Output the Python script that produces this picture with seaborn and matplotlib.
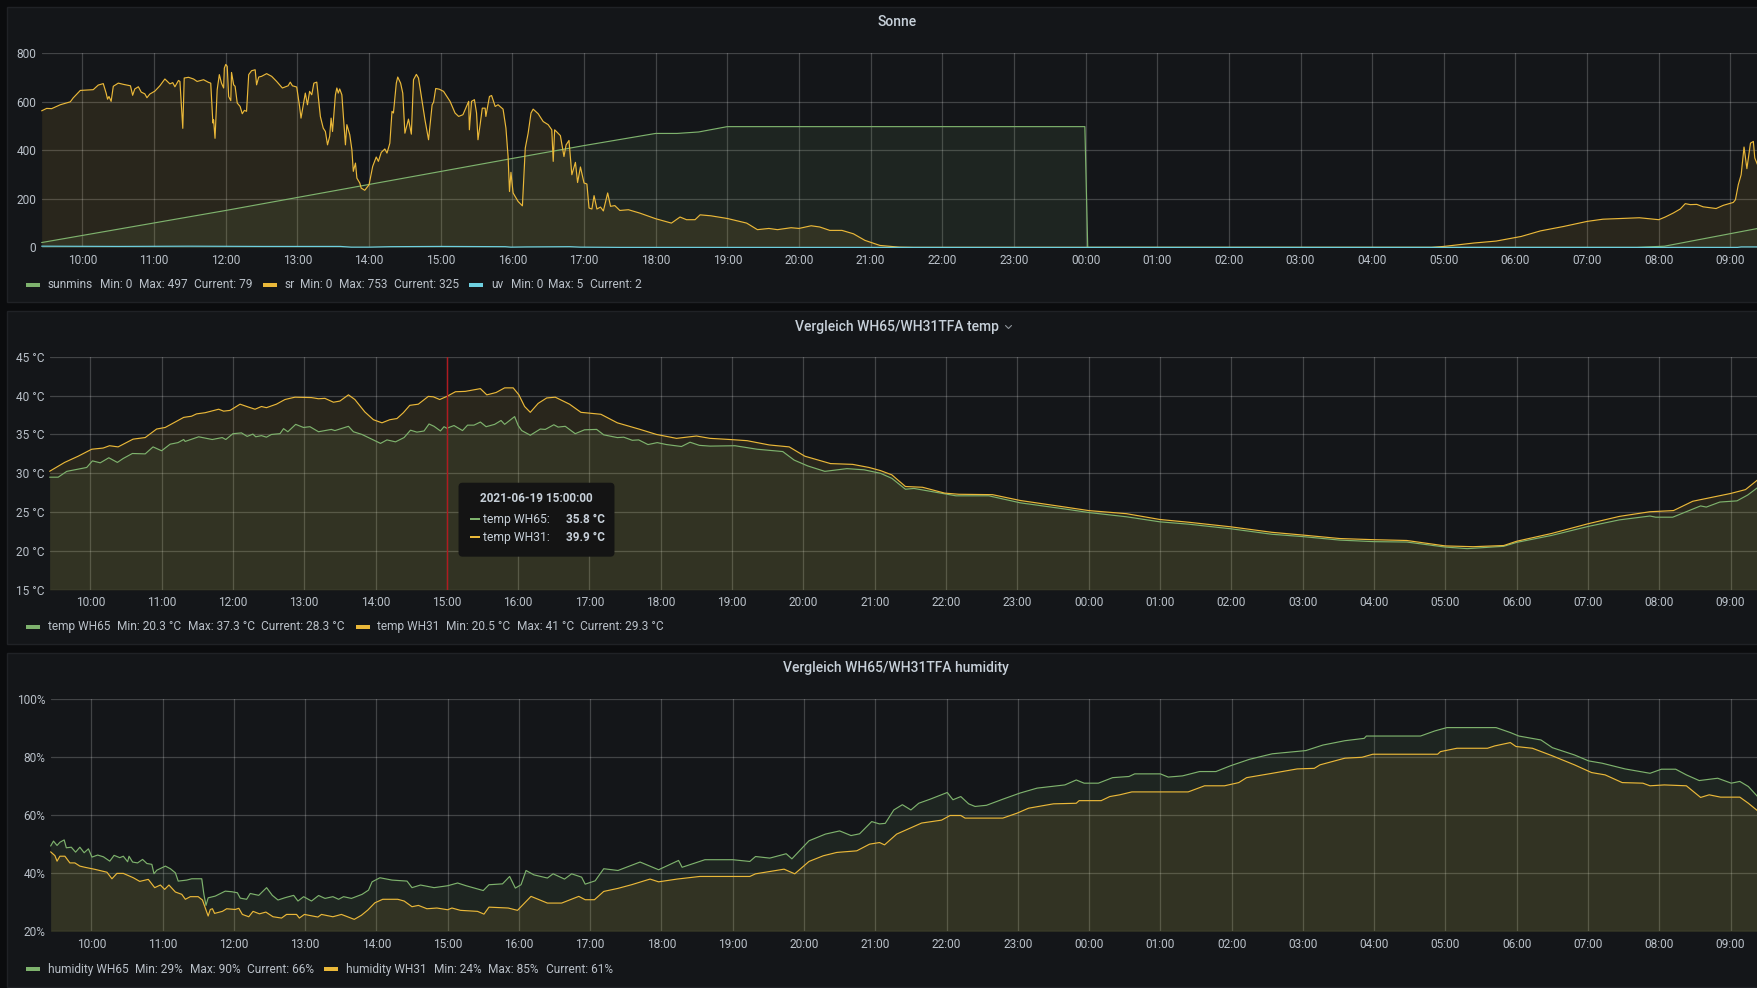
import matplotlib
matplotlib.use("Agg")
import matplotlib.pyplot as plt
from matplotlib.patches import Rectangle, FancyBboxPatch
from matplotlib.lines import Line2D
from matplotlib.transforms import IdentityTransform
import seaborn as sns

# ---------- data (hours counted from 00:00 of 2021-06-19; >24 means next day) ----------
sr_hours = [9.43,9.50,9.57,9.69,9.83,9.87,9.97,10.15,10.22,10.29,10.33,10.35,10.37,10.40,10.43,10.50,10.57,10.67,10.70,10.73,10.78,10.82,10.87,10.90,10.94,11.01,11.08,11.15,11.22,11.26,11.29,11.34,11.36,11.40,11.42,11.48,11.55,11.60,11.69,11.76,11.79,11.82,11.83,11.85,11.88,11.91,11.94,11.97,11.98,12.00,12.02,12.04,12.07,12.08,12.11,12.13,12.16,12.20,12.23,12.26,12.29,12.32,12.36,12.41,12.43,12.46,12.50,12.57,12.64,12.71,12.79,12.87,12.90,12.93,12.99,13.03,13.05,13.11,13.14,13.17,13.20,13.23,13.27,13.32,13.36,13.39,13.42,13.45,13.47,13.49,13.53,13.55,13.57,13.59,13.62,13.67,13.69,13.73,13.76,13.78,13.81,13.83,13.87,13.89,13.94,14.00,
            14.05,14.10,14.13,14.17,14.22,14.25,14.29,14.32,14.34,14.38,14.40,14.44,14.47,14.50,14.53,14.55,14.59,14.62,14.66,14.69,14.74,14.78,14.83,14.88,14.90,14.93,14.98,15.04,15.13,15.20,15.25,15.31,15.39,15.40,15.43,15.47,15.50,15.52,15.55,15.58,15.62,15.63,15.68,15.71,15.76,15.80,15.87,15.91,15.94,15.96,15.98,16.01,16.08,16.14,16.18,16.22,16.26,16.29,16.36,16.43,16.50,16.55,16.57,16.59,16.67,16.72,16.75,16.79,16.83,16.88,16.91,16.95,17.00,17.04,17.07,17.11,17.14,17.18,17.23,17.27,17.33,17.37,17.43,17.50,17.62,17.78,18.00,18.22,18.34,18.43,18.55,18.62,18.77,19.0,19.27,19.42,19.58,19.70,19.89,20.0,20.17,20.29,20.43,20.60,20.76,20.92,21.13,21.4,21.6,
            28.83,29.0,29.42,29.73,30.08,30.35,30.67,31.0,31.22,31.73,32.0,32.09,32.2,32.3,32.37,32.44,32.53,32.62,32.8,32.9,33.04,33.07,33.11,33.15,33.19,33.23,33.28,33.32,33.34,33.40]
sr_values = [562,572,571,587,599,615,646,649,668,674,635,610,621,601,663,676,671,665,626,652,661,639,632,616,631,643,665,693,673,678,661,687,683,490,697,700,693,683,690,679,676,512,525,449,649,711,676,656,738,753,745,621,604,720,669,663,594,580,550,564,560,711,727,731,669,701,704,715,704,683,656,665,680,665,660,580,532,635,587,642,628,676,680,539,491,477,422,457,532,477,628,656,635,652,628,422,505,464,402,313,347,285,265,244,235,258,
             333,372,354,391,405,388,429,560,553,676,701,676,635,470,505,528,466,690,712,697,601,525,443,587,597,654,651,642,601,553,539,546,601,484,601,608,553,443,505,573,573,539,621,625,580,587,569,491,374,230,309,224,189,171,409,470,553,569,550,518,505,484,354,484,460,374,422,440,299,350,267,331,265,261,162,158,213,158,166,150,224,169,172,152,155,141,118,100,125,114,114,134,130,119,100,73,78,73,81,78,89,84,70,70,56,29,8,1,0,
             0,4,18,26,45,68,86,107,116,122,114,125,141,158,180,176,177,167,160,173,185,196,258,299,413,324,429,436,368,325]

sunmins_hours = [9.43,12.0,14.0,16.0,17.0,18.0,18.3,18.6,19.0,23.99,24.03,31.7,32.08,33.40]
sunmins_values = [20,152,259,366,419,469,469,475,497,497,0,0,5,79]

uv_hours = [9.43,10.5,11.5,12.5,13.6,13.75,14.0,14.3,15.0,15.9,15.98,16.2,16.8,16.95,17.5,33.1,33.15,33.40]
uv_values = [5,4,5,4,4,1,1,3,4,3,1,2,3,1,0,0,2,2]

wh65t_hours = [9.43,9.55,9.67,9.81,9.95,10.03,10.14,10.26,10.38,10.46,10.59,10.77,10.88,11.0,11.12,11.23,11.31,11.33,11.52,11.71,11.85,11.9,12.0,12.12,12.2,12.28,12.32,12.4,12.47,12.54,12.66,12.71,12.77,12.88,12.99,13.08,13.2,13.38,13.43,13.62,13.69,13.81,13.97,14.07,14.16,14.28,14.4,14.49,14.58,14.68,14.75,14.82,14.91,14.96,15.0,15.1,15.22,15.29,15.38,15.47,15.55,15.67,15.76,15.81,15.95,16.0,16.05,16.17,16.31,16.38,16.5,16.56,16.66,16.8,16.93,17.1,17.2,17.39,17.48,17.6,17.69,17.82,17.95,18.08,18.29,18.41,18.54,18.69,19.04,19.35,19.71,19.87,20.06,20.3,20.61,20.85,21.08,21.24,21.43,21.55,21.98,22.14,22.6,23.04,23.67,24.0,24.53,25.0,25.4,26.0,26.57,27.0,27.52,28.0,28.46,29.0,29.31,29.82,30.0,30.49,31.0,31.44,31.87,31.95,32.19,32.58,32.66,32.85,33.09,33.24,33.40]
wh65t_values = [29.5,29.5,30.25,30.5,30.75,31.6,31.35,32.0,31.4,31.9,32.55,32.5,33.4,32.9,33.75,33.95,34.35,34.1,34.7,34.35,34.6,34.35,35.1,35.2,34.75,35.05,34.7,34.85,34.65,35.0,35.1,35.75,35.35,36.3,35.9,36.0,35.35,35.65,35.5,36.05,35.35,35.0,34.3,33.85,34.3,34.05,34.6,35.55,35.3,35.45,36.35,36.05,35.45,36.0,35.8,36.15,35.5,36.2,36.2,36.6,36.0,36.3,36.8,36.3,37.3,36.15,35.5,34.9,35.7,35.65,36.25,35.95,36.05,35.1,35.6,35.65,34.95,34.6,34.65,34.25,34.3,33.7,33.95,33.7,33.45,34.0,33.6,33.5,33.55,33.1,32.8,31.7,30.95,30.25,30.6,30.45,30.0,29.35,27.95,28.05,27.35,27.1,27.1,26.2,25.4,24.95,24.4,23.75,23.45,22.85,22.15,21.85,21.4,21.2,21.15,20.5,20.3,20.6,21.1,22.0,23.15,24.0,24.5,24.35,24.35,25.8,25.65,26.3,26.45,27.2,28.3]

wh31t_hours = [9.43,9.64,9.83,10.02,10.18,10.27,10.39,10.6,10.77,10.93,11.05,11.19,11.31,11.42,11.49,11.61,11.8,11.87,11.96,12.1,12.21,12.31,12.4,12.47,12.61,12.73,12.87,13.1,13.2,13.29,13.41,13.5,13.62,13.71,13.85,13.97,14.09,14.2,14.3,14.39,14.48,14.6,14.74,14.81,14.9,15.0,15.12,15.26,15.47,15.56,15.69,15.81,15.93,16.01,16.09,16.17,16.28,16.4,16.52,16.72,16.88,17.16,17.39,17.71,17.94,18.22,18.5,18.69,18.97,19.21,19.52,19.8,20.02,20.38,20.69,20.92,21.08,21.24,21.43,21.67,21.98,22.18,22.65,23.04,23.67,24.0,24.53,25.0,25.4,26.0,26.57,27.0,27.52,28.0,28.46,29.0,29.39,29.82,30.0,30.49,31.0,31.44,31.87,32.2,32.47,33.0,33.21,33.40]
wh31t_values = [30.26,31.4,32.2,33.1,33.25,33.55,33.4,34.4,34.6,35.7,35.9,36.6,37.2,37.35,37.65,37.8,38.25,38.0,38.1,38.9,38.55,38.25,38.6,38.45,38.9,39.5,39.8,39.75,39.6,39.65,39.15,39.3,40.1,39.5,37.9,36.9,36.5,36.9,37.05,37.8,38.75,38.9,39.9,39.85,39.5,39.9,40.5,40.55,40.9,40.1,40.4,41.0,41.0,40.1,38.6,37.85,39.0,39.7,39.8,38.9,37.85,37.6,36.5,35.65,35.0,34.5,34.8,34.5,34.35,34.2,33.65,33.4,32.2,31.25,31.15,30.75,30.35,29.8,28.3,28.2,27.45,27.3,27.25,26.5,25.65,25.2,24.8,24.05,23.7,23.1,22.4,22.05,21.6,21.45,21.35,20.65,20.55,20.7,21.25,22.25,23.5,24.45,25.05,25.2,26.4,27.4,27.9,29.3]

wh65h_hours = [9.43,9.47,9.52,9.56,9.62,9.65,9.72,9.78,9.84,9.9,9.96,10.01,10.09,10.17,10.26,10.32,10.4,10.45,10.51,10.53,10.58,10.65,10.72,10.78,10.85,10.88,10.92,11.04,11.11,11.18,11.22,11.34,11.41,11.55,11.58,11.61,11.64,11.74,11.88,11.97,12.05,12.09,12.18,12.23,12.35,12.46,12.54,12.62,12.72,12.84,12.9,12.98,13.09,13.19,13.28,13.39,13.47,13.54,13.65,13.8,13.89,13.94,14.05,14.22,14.43,14.5,14.62,14.81,15.0,15.14,15.26,15.5,15.58,15.77,15.87,15.95,16.03,16.1,16.21,16.4,16.48,16.64,16.74,16.88,16.93,17.07,17.19,17.39,17.7,17.96,18.24,18.29,18.61,19.0,19.24,19.32,19.52,19.75,19.83,20.07,20.3,20.5,20.66,20.78,20.95,21.06,21.14,21.26,21.38,21.5,21.61,21.77,22.01,22.09,22.2,22.31,22.4,22.56,22.79,23.03,23.27,23.66,23.82,23.93,24.13,24.33,24.56,24.64,25.0,25.11,25.31,25.55,25.78,25.98,26.25,26.57,27.04,27.28,27.59,27.86,27.89,28.65,28.85,29.02,29.71,29.91,30.03,30.34,30.5,30.81,31.01,31.2,31.52,31.87,32.03,32.23,32.38,32.56,32.82,33.01,33.13,33.25,33.40]
wh65h_values = [49.3,51,49.5,50.6,51.4,48.7,48.9,47.2,48.9,47,48.35,45.5,46.2,45.6,44.1,46.1,45.3,45.8,43.9,45.8,43.8,43.5,44.7,43.3,43,39.8,41,42.4,41.5,40.1,37.25,37.6,38.05,38.05,32.7,28.9,31.5,32.1,33.8,33.6,33.25,31.4,31,33,32.35,35,32.35,30.75,31.55,32.35,30.4,31.9,30.4,32.3,31.3,31.9,31,31.9,31.3,32.7,34.15,37,38.4,37.6,37.25,35,35.9,35,35.65,36.6,35.65,34,36,36.3,38.85,34.85,36,40.9,39.4,38.3,39.75,37.95,39.75,38.6,36.2,37.35,41.5,40.9,43.8,41.15,44.35,42,44.6,44.6,44,45.7,45.15,46.65,44.9,51.1,53.4,54.5,52.9,53.5,57.7,56.9,57.1,61.7,63.5,61.7,64,65.4,67.7,65.2,66.3,63.8,62.9,63.3,65.4,67.5,69.2,70.3,72,70.9,70.9,72.8,73.2,74.1,74.1,73,73.4,74.9,74.9,76.85,79.1,81,82.1,84,85.5,86.3,87.1,87.1,88.85,90,90,88.3,87.1,85.75,83.1,80.6,78.55,77.75,75.8,74.3,75.7,75.7,73.75,71.8,72.6,70.9,71.5,69.75,65.75]

wh31h_hours = [9.43,9.49,9.52,9.56,9.63,9.7,9.77,9.84,9.91,10.05,10.22,10.29,10.36,10.45,10.59,10.68,10.8,10.89,10.97,11.03,11.09,11.18,11.27,11.32,11.39,11.5,11.56,11.64,11.67,11.7,11.73,11.84,11.9,12.02,12.07,12.12,12.21,12.27,12.36,12.45,12.55,12.67,12.74,12.88,12.92,12.99,13.18,13.23,13.39,13.51,13.69,13.79,13.88,13.98,14.09,14.3,14.39,14.5,14.59,14.71,14.85,15.0,15.06,15.18,15.42,15.51,15.58,15.85,15.98,16.17,16.4,16.6,16.84,16.93,17.06,17.19,17.39,17.58,17.84,17.96,18.22,18.54,19.24,19.32,19.72,19.87,20.07,20.27,20.46,20.74,20.92,21.06,21.13,21.3,21.54,21.65,21.93,22.05,22.2,22.26,22.36,22.79,22.99,23.15,23.5,23.82,23.86,24.17,24.29,24.43,24.6,25.39,25.62,25.9,26.1,26.21,26.57,26.92,27.16,27.24,27.59,27.83,27.98,28.89,28.93,29.16,29.59,29.69,29.91,29.99,30.22,30.5,30.81,31.05,31.24,31.48,31.77,31.87,32.07,32.38,32.58,32.7,32.86,33.13,33.25,33.40]
wh31h_values = [47.3,46,44.1,45.8,45.8,43.5,43.5,42.4,42,41.3,40.3,38.05,39.9,39.9,38.4,37.15,37.85,35,35.9,34.4,35.9,33.5,32.7,31,31.9,31.9,30.75,25.25,27.5,27.75,26.15,26.85,27.75,27.5,27.9,25.8,25,26.85,26,26.6,25,24.55,25.8,25.8,24.55,25.8,24.9,25.8,25,25.8,24.1,25.5,27.3,29.8,31,31,30.4,28.45,28.9,27.75,28,27.4,28,27.2,26.85,25.9,28.3,28,27.2,32,29.7,29.7,32,30.85,30.85,33.7,34.75,36,37.95,37,37.95,38.85,38.85,39.75,41.35,39.75,44,45.95,47.1,47.65,49.95,50.5,49.7,53.4,56,57.2,58.2,59.8,59.8,58.9,58.9,58.9,60.6,62.3,63.8,64,64.9,64.9,66.3,66.9,67.9,67.9,70,70,71.1,72.8,74.3,75.8,76,77.2,79.5,79.8,80.85,80.85,81.75,82.9,82.9,83.7,84.85,83.5,82.9,80.3,77.2,74.55,73.75,71.1,70.9,70,70.3,70,66,66.9,66.1,66.1,64,61]

hour_ticks = list(range(10, 34))
hour_labels = [f"{h % 24:02d}:00" for h in hour_ticks]
sun_ticks = [0, 200, 400, 600, 800]
sun_labels = ["0", "200", "400", "600", "800"]
temp_ticks = [15, 20, 25, 30, 35, 40, 45]
temp_labels = ["15 °C", "20 °C", "25 °C", "30 °C", "35 °C", "40 °C", "45 °C"]
hum_ticks = [20, 40, 60, 80, 100]
hum_labels = ["20%", "40%", "60%", "80%", "100%"]

titles = ["Sonne", "Vergleich WH65/WH31TFA temp", "Vergleich WH65/WH31TFA humidity"]
tooltip_time = "2021-06-19 15:00:00"
tooltip_hour = 15.0
tooltip_names = ["temp WH65:", "temp WH31:"]
tooltip_values = ["35.8 °C", "39.9 °C"]

legend_sun = [("sunmins", "Min: 0", "Max: 497", "Current: 79"),
              ("sr", "Min: 0", "Max: 753", "Current: 325"),
              ("uv", "Min: 0", "Max: 5", "Current: 2")]
legend_temp = [("temp WH65", "Min: 20.3 °C", "Max: 37.3 °C", "Current: 28.3 °C"),
               ("temp WH31", "Min: 20.5 °C", "Max: 41 °C", "Current: 29.3 °C")]
legend_hum = [("humidity WH65", "Min: 29%", "Max: 90%", "Current: 66%"),
              ("humidity WH31", "Min: 24%", "Max: 85%", "Current: 61%")]

# ---------- style ----------
GREEN, YELLOW, BLUE = "#7eb26d", "#eab839", "#6ed0e0"
BG, PANEL, EDGE = "#0b0c0e", "#141619", "#202226"
TXT, TICK = "#c7d0d9", "#b9c0c8"
sns.set_theme(style="dark")
plt.rcParams["font.family"] = ["Roboto", "DejaVu Sans"]

W, H = 1758, 988
fig = plt.figure(figsize=(W / 100, H / 100), dpi=100, facecolor=BG)
ident = IdentityTransform()


def ftext(x, y, s, size=8.6, color=TICK, ha="left", weight="normal", z=6):
    fig.text(x / W, 1 - y / H, s, fontsize=size, color=color, ha=ha, va="center",
             fontweight=weight, zorder=z)


def series(ax, hours, values, color, base):
    ax.fill_between(hours, values, base, color=color, alpha=0.1, lw=0, zorder=1)
    sns.lineplot(x=hours, y=values, ax=ax, color=color, lw=0.85, estimator=None,
                 errorbar=None, sort=False, legend=False, zorder=2, clip_on=False)


def panel(top, bottom, left, ax_top, ax_bottom, ylim, yticks, ylabels):
    fig.add_artist(Rectangle((7, H - bottom), W, bottom - top, transform=ident, fc=PANEL,
                             ec=EDGE, lw=1, zorder=-1))
    ax = fig.add_axes([left / W, 1 - ax_bottom / H, (W - left) / W, (ax_bottom - ax_top) / H],
                      facecolor="none")
    ax.set_xlim(9.435, 33.385)
    ax.set_ylim(*ylim)
    ax.set_xticks(hour_ticks, hour_labels)
    ax.set_yticks(yticks, ylabels)
    ax.set_xlabel("")
    ax.set_ylabel("")
    ax.tick_params(axis="both", length=0, labelsize=8.6, labelcolor=TICK)
    ax.tick_params(axis="x", pad=4.8)
    ax.tick_params(axis="y", pad=4)
    ax.grid(True, axis="both", color="white", alpha=0.2, lw=0.9)
    ax.set_axisbelow(True)
    for s in ax.spines.values():
        s.set_visible(False)
    return ax


def legend(y, rows, colors, layout):
    for row, color, xs in zip(rows, colors, layout):
        fig.add_artist(Rectangle((xs[0], H - y - 2), 14, 4, transform=ident, fc=color, lw=0, zorder=5))
        for x, s in zip(xs[1:], row):
            ftext(x, y, s)


# ---------- panel 1 ----------
ax1 = panel(7, 302, 42, 53.0, 247.4, (0, 800), sun_ticks, sun_labels)
series(ax1, sunmins_hours, sunmins_values, GREEN, 0)
series(ax1, sr_hours, sr_values, YELLOW, 0)
series(ax1, uv_hours, uv_values, BLUE, 0)
ftext(897, 22.5, titles[0], size=10, color=TXT, ha="center", weight="medium")
legend(285, legend_sun, [GREEN, YELLOW, BLUE],
       [(26, 48, 100, 138.6, 193.6), (262.6, 284.5, 300, 339.5, 394.5), (468.6, 491.6, 510.7, 548, 590)])

# ---------- panel 2 ----------
ax2 = panel(311, 644, 50, 356.8, 589.8, (15, 45), temp_ticks, temp_labels)
series(ax2, wh65t_hours, wh65t_values, GREEN, 15)
series(ax2, wh31t_hours, wh31t_values, YELLOW, 15)
ax2.axvline(tooltip_hour, color="#b01a20", lw=1.0, zorder=3)
ftext(897, 326.5, titles[1], size=10, color=TXT, ha="center", weight="medium")
fig.add_artist(Line2D([1005.5, 1008.5, 1011.5], [H - 325.5, H - 328.5, H - 325.5], transform=ident,
                      color="#8e9499", lw=0.8, zorder=5))
legend(626.7, legend_temp, [GREEN, YELLOW],
       [(26, 48, 117.3, 188, 261.5), (355.8, 377, 446, 517, 580)])

# tooltip
fig.add_artist(FancyBboxPatch((462, H - 553.2), 149, 67, boxstyle="round,pad=0,rounding_size=0", transform=ident,
                              fc="#141414", ec="#141414", lw=5, joinstyle="round", zorder=5))
ftext(536.5, 498, tooltip_time, size=8.5, color=TXT, ha="center", weight="bold")
for y, name, val, c in zip([519.3, 537.3], tooltip_names, tooltip_values, [GREEN, YELLOW]):
    fig.add_artist(Rectangle((470, H - y - 1), 9.5, 2.2, transform=ident, fc=c, lw=0, zorder=6))
    ftext(482.6, y, name, size=8.7, color=TXT)
    ftext(605, y, val, size=8.5, color=TXT, ha="right", weight="bold")

# ---------- panel 3 ----------
ax3 = panel(653, 987, 51, 698.5, 931.3, (20, 100), hum_ticks, hum_labels)
series(ax3, wh65h_hours, wh65h_values, GREEN, 20)
series(ax3, wh31h_hours, wh31h_values, YELLOW, 20)
ftext(896, 668, titles[2], size=10, color=TXT, ha="center", weight="medium")
legend(969, legend_hum, [GREEN, YELLOW],
       [(26, 48, 135, 190, 247), (324, 346, 434, 488, 545.5)])

fig.savefig("out.png", dpi=100, facecolor=BG)
